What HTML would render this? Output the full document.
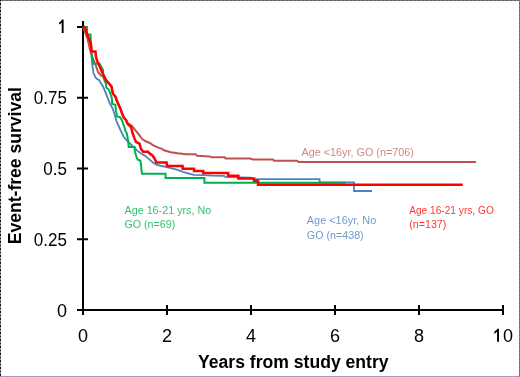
<!DOCTYPE html>
<html><head><meta charset="utf-8">
<style>
html,body{margin:0;padding:0;background:#fff;}
body{width:520px;height:377px;overflow:hidden;position:relative;font-family:"Liberation Sans",sans-serif;}
.b{position:absolute;}
#bt{left:0;top:0;width:520px;height:1px;background:repeating-linear-gradient(90deg,#8c6c8c 0 2px,#4c6c4c 2px 4px);}
#bb{left:0;top:376px;width:520px;height:1px;background:repeating-linear-gradient(90deg,#c8a0c8 0 1px,#8aa08a 1px 2px);}
#bl{left:0;top:0;width:1px;height:377px;background:repeating-linear-gradient(180deg,#151515 0 1.5px,#9a8a9a 1.5px 3.5px);}
#br{left:519px;top:0;width:1px;height:377px;background:repeating-linear-gradient(180deg,#9a6a9a 0 3px,#4c6c4c 3px 4px);}
svg{position:absolute;left:0;top:0;will-change:transform;}
</style></head><body>
<div class="b" id="bt"></div><div class="b" id="bb"></div><div class="b" id="bl"></div><div class="b" id="br"></div>
<svg width="520" height="377" viewBox="0 0 520 377">

<!-- axes -->
<g stroke="#000" stroke-width="2" fill="none">
<line x1="83" y1="21" x2="83" y2="315"/>
<line x1="77" y1="310" x2="504" y2="310"/>
<line x1="77" y1="27" x2="88" y2="27"/>
<line x1="77" y1="97.75" x2="88" y2="97.75"/>
<line x1="77" y1="168.5" x2="88" y2="168.5"/>
<line x1="77" y1="239.25" x2="88" y2="239.25"/>
<line x1="167" y1="305" x2="167" y2="315"/>
<line x1="251" y1="305" x2="251" y2="315"/>
<line x1="335" y1="305" x2="335" y2="315"/>
<line x1="419" y1="305" x2="419" y2="315"/>
<line x1="503" y1="305" x2="503" y2="315"/>
</g>
<g font-family="Liberation Sans" font-size="18" fill="#000">
<g text-anchor="end">
<text x="67" y="104.2" textLength="33.2" lengthAdjust="spacingAndGlyphs">0.75</text>
<text x="67" y="175" textLength="23.7" lengthAdjust="spacingAndGlyphs">0.5</text>
<text x="67" y="245.7" textLength="33.2" lengthAdjust="spacingAndGlyphs">0.25</text>
<text x="67" y="316.5">0</text>
</g>
<g text-anchor="middle">
<text x="83" y="341.5">0</text>
<text x="167" y="341.5">2</text>
<text x="251" y="341.5">4</text>
<text x="335" y="341.5">6</text>
<text x="419" y="341.5">8</text>
</g>
<text x="198" y="368" font-weight="bold" textLength="190.6" lengthAdjust="spacingAndGlyphs">Years from study entry</text>
<text transform="translate(21,244.3) rotate(-90)" font-weight="bold" textLength="157.2" lengthAdjust="spacingAndGlyphs">Event-free survival</text>
</g>
<g fill="none" stroke-linejoin="miter" stroke-linecap="butt">
<!-- brown: Age <16yr, GO -->
<polyline stroke="#C0504D" stroke-width="2" points="83,27 85,32 87.5,39 89,45 90,50 92,56 94,61 96,66 98,72 101,75.5 104.5,77.5 106,80 108.5,83 111.5,86.5 112.9,93.7 115.3,96.5 117.4,102 120.2,108.2 121.9,113 123.9,117.9 126,119.9 127.7,123.5 131.5,125.5 135.3,130.2 138.8,134.4 142.2,139 145.7,141.3 149.2,142.7 153.3,145.3 157.7,147.4 161.9,148.8 163.9,150.3 170.8,152.2 177.7,153.3 186,154.3 195.7,154.3 197.1,155.7 209.5,156.4 211.6,157.3 224.8,157.3 225.5,158.5 250,158.5 253,159.4 273,159.5 274,160.8 297,160.8 298.7,162.1 476,162.1"/>
<!-- blue: Age <16yr, No GO -->
<polyline stroke="#4F81BD" stroke-width="1.8" points="83,27 84.5,27.5 91,44 91.5,51.5 91.7,56 92,62 92.5,67 93.5,73 95.5,77.5 97,79 99,80 100.5,82.5 103,86.5 104.9,90.9 107.7,97.9 109.8,103.4 112.8,108.8 114.6,114.4 116.3,120.6 118.4,125.4 120.8,130.9 123.5,136.5 127,140.6 130.5,144 133.5,146.9 136.9,150.4 141.1,153.5 145.2,155.9 149.4,159.4 153.5,162.9 156.9,165 163.9,166.5 170.8,168.2 176,169.3 182.9,171.8 189.9,173.9 194,174.9 203.7,175.2 212,175.6 223.9,175.8 226,177.2 251,177.6 254,179.1 319.6,179.1 319.6,182.4 354,182.4 354,191 372,191"/>
<!-- green: Age 16-21, No GO -->
<polyline stroke="#00B050" stroke-width="2" points="83,27 87,27 87,34.5 90.5,34.5 90.8,40 91.5,53 92,59 94,64 99.5,63.5 103,70 103.5,78 106,84 106.3,87.5 108.7,89.5 110.1,93 111.8,97.9 112.2,104 115.3,104.8 116,110.9 117,116.5 120.1,117.2 122.2,120.6 123.2,124 124.6,127.5 125,130 126.7,133 127.7,137.9 128.4,143.4 128.7,146.9 134.6,146.9 134.8,151.1 136.2,156 137.6,159.5 140.4,160.8 141.1,165 141.4,169.9 142.1,173.7 165.5,173.7 165.5,178 204.4,178 204.4,182.7 345.7,182.7"/>
<!-- red: Age 16-21, GO -->
<polyline stroke="#FF0000" stroke-width="2.5" points="83,27 84.5,27 91,44 91.5,51.5 95.5,51.5 96,57 97.5,62 99.5,66 102,72 104.5,77 106,80 108.5,83 111.5,86.5 112.9,93.7 115.3,96.5 117.4,102 120.2,108.2 121.9,113 123.9,117.9 126,119.9 127.7,124 130.2,126.2 131.2,127.5 132.5,133 134.3,137.9 136,142 139.5,143.6 141,149 143.2,151.8 148,151.8 150.1,153.9 152.2,155.2 154.2,158 155.6,160.8 156.3,162.5 166.6,162.5 167,166 182.6,166 182.6,168.7 194,168.7 194,171 203.2,171 203.2,172.9 228.2,172.9 228.2,175.8 238.4,175.8 238.4,178.4 254,178.4 254,180.8 258,180.8 258,184.8 462.8,184.8"/>
</g>
<path fill="#000" d="M63.6,19.6 L63.6,33 L61.7,33 L61.7,22.4 Q60.6,23.7 59,24.6 L59,22.7 Q61,21.4 62.2,19.6 Z"/>
<path fill="#000" d="M499,328.8 L499,341.7 L497.1,341.7 L497.1,331.5 Q496,332.8 494.3,333.7 L494.3,331.8 Q496.3,330.5 497.5,328.8 Z"/>
<text x="503" y="341.5" font-family="Liberation Sans" font-size="18">0</text>
<g font-family="Liberation Sans" font-size="11.5" fill-opacity="0.8">
<text x="301.5" y="156" fill="#C0504D" fill-opacity="0.7" textLength="112.4" lengthAdjust="spacingAndGlyphs">Age &lt;16yr, GO (n=706)</text>
<text x="124.5" y="213.5" fill="#00B050" textLength="86.7" lengthAdjust="spacingAndGlyphs">Age 16-21 yrs, No</text>
<text x="124.5" y="228" fill="#00B050" textLength="50.7" lengthAdjust="spacingAndGlyphs">GO (n=69)</text>
<text x="306.8" y="224" fill="#4F81BD" textLength="69.4" lengthAdjust="spacingAndGlyphs">Age &lt;16yr, No</text>
<text x="306.8" y="238.5" fill="#4F81BD" textLength="56.9" lengthAdjust="spacingAndGlyphs">GO (n=438)</text>
<text x="409.2" y="213.7" fill="#FF0000" textLength="84.6" lengthAdjust="spacingAndGlyphs">Age 16-21 yrs, GO</text>
<text x="409.2" y="228.2" fill="#FF0000" textLength="37.2" lengthAdjust="spacingAndGlyphs">(n=137)</text>
</g>
</svg>
</body></html>
